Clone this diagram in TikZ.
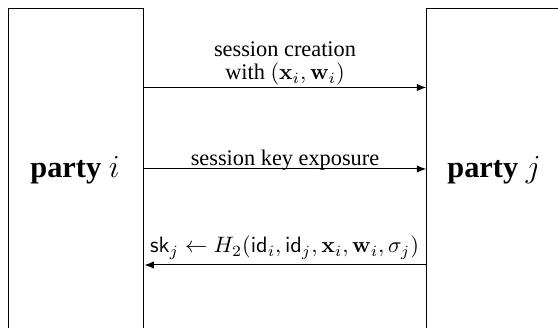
\documentclass[tikz,border=0pt]{standalone}
\usepackage[no-math]{fontspec}
\setmainfont{Liberation Serif}
\usetikzlibrary{arrows.meta}
\tikzset{
  partybox/.style={draw, line width=0.45pt, minimum width=60.7pt, minimum height=175pt, inner sep=0pt, anchor=north},
  msg/.style={line width=0.45pt, -{Latex[length=4.2pt,width=3.3pt]}},
  lbl/.style={anchor=base, inner sep=0pt, align=center, font=\fontsize{10}{10.3}\selectfont},
  pname/.style={anchor=base, inner sep=0pt, font=\fontsize{13.6}{16}\selectfont\bfseries}
}
\begin{document}
\begin{tikzpicture}[x=0.448pt, y=-0.448pt]
\useasboundingbox (0,0) rectangle (558,328);
\clip (0,0) rectangle (558,328);
\node[partybox] (bi) at (76.25,8) {};
\node[partybox] (bj) at (494.45,8) {};
\node[pname] (ti) at (75,178) {party $i$};
\node[pname] (tj) at (494,178) {party $j$};
\coordinate (y1) at (0,87.5);
\coordinate (y2) at (0,169);
\coordinate (y3) at (0,265);
\draw[msg] (bi.east |- y1) -- (bj.west |- y1);
\draw[msg] (bi.east |- y2) -- (bj.west |- y2);
\draw[msg] (bj.west |- y3) -- (bi.east |- y3);
\node[lbl] (l1) at (285,80) {session creation\\with $(\mathbf{x}_i,\mathbf{w}_i)$};
\node[lbl] (l2) at (285,165.5) {session key exposure};
\node[lbl] (l3) at (284.5,253) {$\mathsf{sk}_j\leftarrow H_2(\mathsf{id}_i,\mathsf{id}_j,\mathbf{x}_i,\mathbf{w}_i,\sigma_j)$};
\end{tikzpicture}
\end{document}
